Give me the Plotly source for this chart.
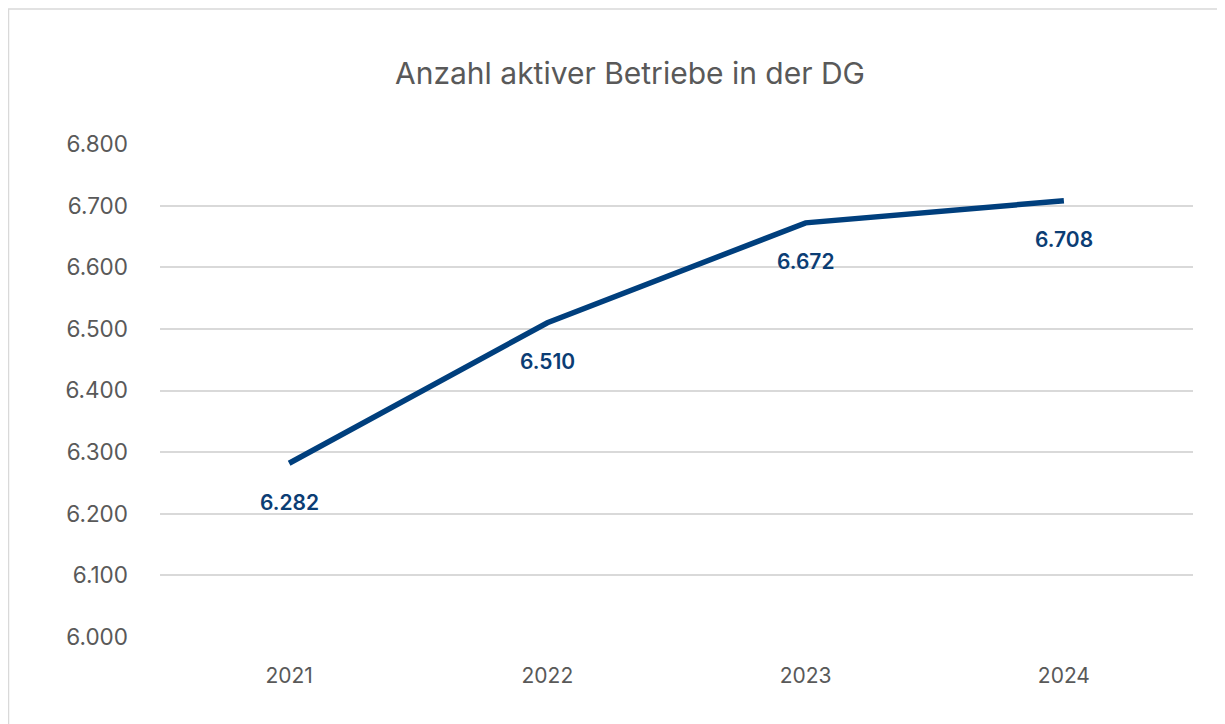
import plotly.graph_objects as go

years = ["2021", "2022", "2023", "2024"]
values = [6282, 6510, 6672, 6708]
y_ticks = [6000, 6100, 6200, 6300, 6400, 6500, 6600, 6700, 6800]

line_color = "#003f7d"
label_color = "#0b3d74"
text_gray = "#595959"
font_family = "Inter, 'Open Sans', sans-serif"

fig = go.Figure()
fig.add_trace(go.Scatter(
    x=years, y=values, mode="lines",
    line=dict(color=line_color, width=5.5),
    hoverinfo="skip", showlegend=False,
))

for i, v in enumerate(values):
    fig.add_annotation(
        x=i, y=v, xref="x", yref="y", text=f"{v:,}".replace(",", "."), showarrow=False,
        yshift=-39, font=dict(family=font_family, size=21, color=label_color, weight=600),
    )

# page body has an 8px margin; margins compensate so plot area sits at target pixels
fig.update_layout(
    width=1225, height=724,
    margin=dict(l=152, r=40, t=136, b=95),
    paper_bgcolor="white", plot_bgcolor="white",
    separators=",.",
    title=dict(text="Anzahl aktiver Betriebe in der DG", x=(630 - 8) / 1225, xanchor="center",
               y=1 - (73 - 8) / 724, yanchor="middle",
               font=dict(family=font_family, size=30, color=text_gray)),
    xaxis=dict(
        type="category", range=[-0.5, 3.5], showgrid=False, zeroline=False,
        showline=False, ticks="", ticklabelstandoff=24,
        tickfont=dict(family=font_family, size=21, color=text_gray),
    ),
    yaxis=dict(
        range=[6000, 6800], tickvals=y_ticks, tickformat=",d",
        showgrid=True, gridcolor="#d9d9d9", gridwidth=1.5, zeroline=False,
        showline=False, ticks="", ticklabelstandoff=31,
        tickfont=dict(family=font_family, size=22.5, color=text_gray),
    ),
    shapes=[dict(
        type="rect", xref="paper", yref="paper",
        x0=(8.5 - 160) / 1033, x1=(1219.5 - 160) / 1033,
        y0=(637 - 740) / 493, y1=(637 - 9) / 493,
        line=dict(color="#d9d9d9", width=1.5), fillcolor="rgba(0,0,0,0)", layer="below",
    )],
)

fig.write_html("out.html")
